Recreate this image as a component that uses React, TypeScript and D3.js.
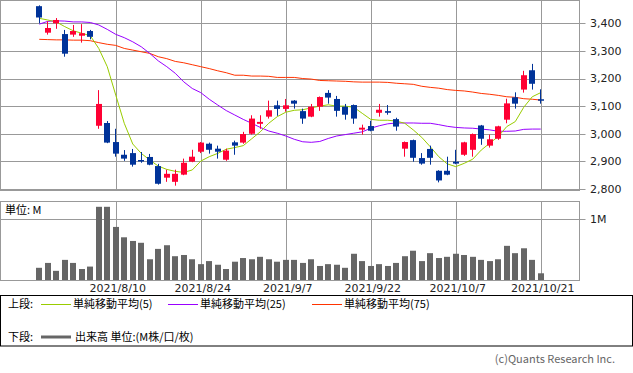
import React, { useRef, useEffect } from 'react';
import * as d3 from 'd3';

// trading days 2021/7/27 .. 2021/10/21 (60 sessions)
const opens = [
  3462, 3366, 3400, 3361, 3359, 3355, 3372, 3029, 3039, 2970,
  2924, 2930, 2905, 2916, 2883, 2841, 2826, 2852, 2899, 2935,
  2964, 2946, 2906, 2969, 2968, 3000, 3036, 3062, 3103, 3090,
  3120, 3082, 3062, 3098, 3148, 3126, 3098, 3104, 3015, 3028,
  3076, 3082, 3053, 2946, 2977, 2912, 2945, 2866, 2866, 2899,
  2924, 2942, 3030, 2957, 2982, 3051, 3132, 3160, 3230, 3125,
];
const highs = [
  3465, 3407, 3419, 3376, 3394, 3397, 3376, 3158, 3046, 3018,
  2941, 2945, 2934, 2927, 2891, 2870, 2870, 2910, 2942, 2970,
  2968, 2957, 2946, 2975, 3007, 3067, 3067, 3120, 3120, 3126,
  3122, 3091, 3108, 3135, 3158, 3137, 3108, 3106, 3033, 3047,
  3108, 3104, 3058, 2972, 2979, 2930, 2957, 2868, 2917, 2942,
  2971, 3001, 3032, 2997, 3029, 3127, 3150, 3228, 3253, 3161,
];
const lows = [
  3400, 3359, 3380, 3279, 3351, 3330, 3342, 3018, 2966, 2917,
  2902, 2881, 2895, 2886, 2816, 2826, 2812, 2850, 2897, 2930,
  2928, 2910, 2902, 2924, 2964, 2997, 3018, 3055, 3065, 3080,
  3091, 3036, 3060, 3083, 3109, 3062, 3051, 3036, 2997, 3009,
  3062, 3069, 3011, 2917, 2899, 2888, 2888, 2824, 2850, 2890,
  2920, 2917, 2960, 2950, 2978, 3038, 3091, 3149, 3160, 3109,
];
const closes = [
  3421, 3383, 3412, 3290, 3372, 3364, 3351, 3108, 2968, 2928,
  2910, 2888, 2900, 2888, 2819, 2855, 2855, 2895, 2917, 2968,
  2942, 2935, 2939, 2957, 2999, 3055, 3043, 3085, 3090, 3103,
  3109, 3055, 3098, 3133, 3131, 3083, 3069, 3055, 3022, 3011,
  3087, 3076, 3026, 2970, 2913, 2892, 2913, 2831, 2852, 2892,
  2969, 2999, 2982, 2980, 3027, 3110, 3109, 3212, 3181, 3123,
];
// volume, millions
const volumes = [
  0.20, 0.28, 0.15, 0.33, 0.28, 0.18, 0.22, 1.20, 1.20, 0.87,
  0.70, 0.64, 0.61, 0.34, 0.51, 0.57, 0.39, 0.41, 0.34, 0.26,
  0.31, 0.25, 0.18, 0.30, 0.36, 0.34, 0.38, 0.34, 0.30, 0.33,
  0.33, 0.28, 0.34, 0.23, 0.26, 0.25, 0.20, 0.43, 0.31, 0.23,
  0.26, 0.23, 0.28, 0.39, 0.48, 0.31, 0.44, 0.36, 0.38, 0.43,
  0.41, 0.38, 0.33, 0.31, 0.34, 0.56, 0.44, 0.52, 0.33, 0.11,
];
const ma5 = [
  3418, 3412, 3405, 3388, 3373, 3364, 3355, 3309, 3243, 3140,
  3038, 2963, 2929, 2905, 2883, 2871, 2864, 2860, 2869, 2901,
  2917, 2929, 2944, 2950, 2957, 2982, 3007, 3038, 3062, 3078,
  3085, 3087, 3094, 3100, 3105, 3100, 3100, 3096, 3074, 3052,
  3049, 3049, 3046, 3038, 3014, 2987, 2953, 2917, 2891, 2881,
  2893, 2908, 2941, 2966, 2990, 3026, 3044, 3096, 3134, 3149,
];
const ma25 = [
  3397, 3407, 3409, 3408, 3405, 3405, 3403, 3394, 3378, 3360,
  3348, 3333, 3315, 3291, 3264, 3243, 3219, 3188, 3164, 3149,
  3125, 3104, 3084, 3068, 3052, 3038, 3023, 3010, 3002, 2992,
  2980, 2971, 2969, 2972, 2983, 2992, 2997, 3002, 3007, 3020,
  3029, 3036, 3039, 3039, 3039, 3038, 3038, 3033, 3027, 3023,
  3021, 3020, 3017, 3014, 3009, 3009, 3010, 3016, 3017, 3017,
];
const ma75 = [
  3342, 3341, 3340, 3340, 3339, 3339, 3337, 3330, 3324, 3320,
  3309, 3303, 3297, 3291, 3279, 3272, 3262, 3257, 3250, 3243,
  3236, 3228, 3221, 3212, 3212, 3209, 3209, 3208, 3204, 3204,
  3204, 3200, 3198, 3193, 3192, 3191, 3190, 3188, 3187, 3187,
  3187, 3186, 3183, 3181, 3179, 3172, 3168, 3165, 3160, 3157,
  3155, 3151, 3146, 3143, 3139, 3134, 3132, 3127, 3125, 3122,
];

const dateTickIdx = [9, 19, 29, 39, 49, 59];
const dateTickLabels = ['2021/8/10', '2021/8/24', '2021/9/7', '2021/9/22', '2021/10/7', '2021/10/21'];
const priceTicks = [2800, 2900, 3000, 3100, 3200, 3300, 3400];

const legendItems = [
  { label: '単純移動平均(5)', color: '#99cc00', x: 41 },
  { label: '単純移動平均(25)', color: '#9900ff', x: 168 },
  { label: '単純移動平均(75)', color: '#ff3300', x: 312 },
];

const W = 633;
const H = 373;

const App: React.FC = () => {
  const svgRef = useRef<SVGSVGElement>(null);

  useEffect(() => {
    if (!svgRef.current) return;
    const svg = d3.select(svgRef.current);
    svg.selectAll('*').remove();

    const numFont = 'DejaVu Sans, sans-serif';
    const jpFont = '"Noto Sans CJK JP", sans-serif';
    const grid = '#999999';

    const left = 0.5;
    const right = 579.5;
    const priceTop = 0.5;
    const priceBottom = 190.5;
    const volTop = 201.5;
    const volBottom = 280;

    const x = d3.scaleLinear().domain([-4.5, 63.5]).range([1, 579]);
    const y = d3.scaleLinear().domain([2800, 3400]).range([189, 23.3]);
    const vy = d3.scaleLinear().domain([0, 1]).range([volBottom, 219]);
    const px = (v: number) => Math.round(v) + 0.5;

    const idx = d3.range(opens.length);

    // ---- price panel
    const g = svg.append('g');
    g.append('rect')
      .attr('x', left).attr('y', priceTop)
      .attr('width', right - left).attr('height', priceBottom - priceTop)
      .attr('fill', '#fff').attr('stroke', grid);

    g.selectAll('.hgrid')
      .data(priceTicks)
      .enter()
      .append('line')
      .attr('x1', left).attr('x2', right + 6)
      .attr('y1', (d) => px(y(d))).attr('y2', (d) => px(y(d)))
      .attr('stroke', grid);

    g.selectAll('.vgrid')
      .data(dateTickIdx)
      .enter()
      .append('line')
      .attr('x1', (d) => px(x(d))).attr('x2', (d) => px(x(d)))
      .attr('y1', priceTop).attr('y2', priceBottom)
      .attr('stroke', grid);

    g.selectAll('.ylab')
      .data(priceTicks)
      .enter()
      .append('text')
      .attr('x', 590)
      .attr('y', (d) => y(d))
      .attr('dy', '0.35em')
      .attr('font-family', numFont)
      .attr('font-size', 11)
      .attr('fill', '#222')
      .text((d) => d3.format(',')(d));

    // moving averages
    const maLine = (vals: number[]) =>
      d3.line<number>().x((i) => x(i)).y((i) => y(vals[i]))(idx);

    [
      { vals: ma75, color: '#ff3300' },
      { vals: ma25, color: '#9900ff' },
      { vals: ma5, color: '#99cc00' },
    ].forEach((m) => {
      g.append('path')
        .attr('d', maLine(m.vals))
        .attr('fill', 'none')
        .attr('stroke', m.color)
        .attr('stroke-width', 1);
    });

    // candles
    const up = '#ff0033';
    const down = '#003399';
    const candle = g.selectAll('.candle').data(idx).enter().append('g');
    candle
      .append('line')
      .attr('x1', (i) => px(x(i) - 0.5)).attr('x2', (i) => px(x(i) - 0.5))
      .attr('y1', (i) => y(highs[i])).attr('y2', (i) => y(lows[i]))
      .attr('stroke', (i) => (closes[i] >= opens[i] ? up : down));
    candle
      .append('rect')
      .attr('x', (i) => Math.round(x(i) - 3))
      .attr('y', (i) => y(Math.max(opens[i], closes[i])))
      .attr('width', 6)
      .attr('height', (i) => Math.max(1.5, Math.abs(y(opens[i]) - y(closes[i]))))
      .attr('fill', (i) => (closes[i] >= opens[i] ? up : down));

    // ---- volume panel
    const v = svg.append('g');
    v.append('rect')
      .attr('x', left).attr('y', volTop)
      .attr('width', right - left).attr('height', volBottom + 0.5 - volTop)
      .attr('fill', '#fff').attr('stroke', grid);
    v.append('line')
      .attr('x1', left).attr('x2', right + 6)
      .attr('y1', px(vy(1))).attr('y2', px(vy(1)))
      .attr('stroke', grid);
    v.selectAll('.vgrid')
      .data(dateTickIdx)
      .enter()
      .append('line')
      .attr('x1', (d) => px(x(d))).attr('x2', (d) => px(x(d)))
      .attr('y1', volTop).attr('y2', volBottom)
      .attr('stroke', grid);
    v.selectAll('.vol')
      .data(idx)
      .enter()
      .append('rect')
      .attr('x', (i) => Math.round(x(i) - 3))
      .attr('y', (i) => vy(volumes[i]))
      .attr('width', 6)
      .attr('height', (i) => volBottom - vy(volumes[i]))
      .attr('fill', '#666666');
    v.append('text')
      .attr('x', 590).attr('y', vy(1)).attr('dy', '0.35em')
      .attr('font-family', numFont).attr('font-size', 11).attr('fill', '#222')
      .text('1M');
    v.append('text')
      .attr('x', 5).attr('y', 210).attr('dy', '0.35em')
      .attr('font-family', jpFont).attr('font-size', 11).attr('fill', '#000')
      .text('単位: M');

    // date labels
    svg.selectAll('.xlab')
      .data(dateTickIdx)
      .enter()
      .append('text')
      .attr('x', (d) => x(d) + 2)
      .attr('y', 288)
      .attr('dy', '0.35em')
      .attr('text-anchor', 'middle')
      .attr('font-family', numFont)
      .attr('font-size', 11)
      .attr('fill', '#222')
      .text((d, i) => dateTickLabels[i]);

    // ---- legend
    const lg = svg.append('g').attr('font-family', jpFont).attr('font-size', 11).attr('fill', '#000');
    lg.append('rect')
      .attr('x', 0.5).attr('y', 295.5).attr('width', 632).attr('height', 50.5)
      .attr('fill', '#fff').attr('stroke', '#000');
    lg.append('text').attr('x', 8).attr('y', 304).attr('dy', '0.35em').text('上段:');
    legendItems.forEach((it) => {
      lg.append('line')
        .attr('x1', it.x).attr('x2', it.x + 30)
        .attr('y1', 304.5).attr('y2', 304.5)
        .attr('stroke', it.color);
      lg.append('text')
        .attr('x', it.x + 32).attr('y', 304).attr('dy', '0.35em')
        .text(it.label);
    });
    lg.append('text').attr('x', 8).attr('y', 337).attr('dy', '0.35em').text('下段:');
    lg.append('line')
      .attr('x1', 41).attr('x2', 71).attr('y1', 337).attr('y2', 337)
      .attr('stroke', '#666666').attr('stroke-width', 3);
    lg.append('text').attr('x', 75).attr('y', 337).attr('dy', '0.35em').text('出来高 単位:(M株/口/枚)');

    svg.append('text')
      .attr('x', 615).attr('y', 359).attr('dy', '0.35em')
      .attr('text-anchor', 'end')
      .attr('font-family', jpFont).attr('font-size', 11).attr('fill', '#666')
      .text('(c)Quants Research Inc.');
  }, []);

  return (
    <svg
      ref={svgRef}
      width={W}
      height={H}
      style={{ position: 'absolute', left: 0, top: 0, background: '#fff' }}
    />
  );
};

export default App;
